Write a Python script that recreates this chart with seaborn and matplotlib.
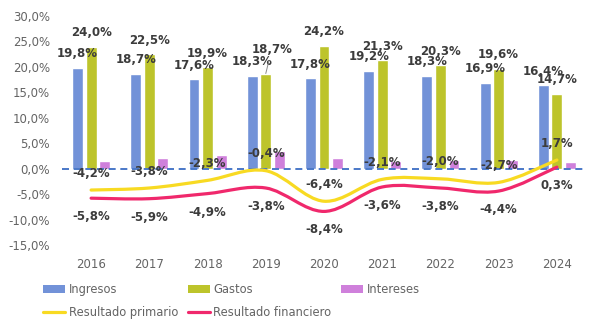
import numpy as np
import pandas as pd
import matplotlib
matplotlib.use("Agg")
import matplotlib.pyplot as plt
from matplotlib.path import Path
from matplotlib.patches import PathPatch, Patch
from matplotlib.lines import Line2D
import seaborn as sns

# Datos (% del PIB)
years = ["2016", "2017", "2018", "2019", "2020", "2021", "2022", "2023", "2024"]
ingresos = [19.8, 18.7, 17.6, 18.3, 17.8, 19.2, 18.3, 16.9, 16.4]
gastos = [24.0, 22.5, 19.9, 18.7, 24.2, 21.3, 20.3, 19.6, 14.7]
intereses = [1.6, 2.1, 2.6, 3.4, 2.0, 1.5, 1.8, 1.7, 1.4]
primario = [-4.2, -3.8, -2.3, -0.4, -6.4, -2.1, -2.0, -2.7, 1.7]
financiero = [-5.8, -5.9, -4.9, -3.8, -8.4, -3.6, -3.8, -4.4, 0.3]
ytick_values = [-15, -10, -5, 0, 5, 10, 15, 20, 25, 30]

C_ING = "#7292D8"
C_GAS = "#BDC42B"
C_INT = "#CF80DB"
C_PRI = "#F8DA22"
C_FIN = "#F0286C"
C_ZERO = "#4A78C8"
C_LABEL = "#3C3C3C"
C_TICK = "#646464"

sns.set_theme(style="white")
plt.rcParams["font.family"] = ["DejaVu Sans"]


def pct(v):
    return f"{v:.1f}".replace(".", ",") + "%"


def smooth_path(xs, ys):
    """Catmull-Rom style cubic Bezier path through the points."""
    pts = np.column_stack([xs, ys]).astype(float)
    n = len(pts)
    verts = [pts[0]]
    codes = [Path.MOVETO]
    for i in range(n - 1):
        p0 = pts[max(i - 1, 0)]
        p1 = pts[i]
        p2 = pts[i + 1]
        p3 = pts[min(i + 2, n - 1)]
        verts += [p1 + (p2 - p0) / 6.0, p2 - (p3 - p1) / 6.0, p2]
        codes += [Path.CURVE4] * 3
    return Path(verts, codes)


fig = plt.figure(figsize=(6.02, 3.34), dpi=100)
ax = fig.add_axes([62 / 602, 1 - 245 / 334, 524 / 602, (245 - 16) / 334])

series = ["Ingresos", "Gastos", "Intereses"]
df = pd.DataFrame({
    "Año": years * 3,
    "Valor": ingresos + gastos + intereses,
    "Serie": [s for s in series for _ in years],
})
sns.barplot(data=df, x="Año", y="Valor", hue="Serie", hue_order=series,
            palette=[C_ING, C_GAS, C_INT], saturation=1, width=0.7, gap=0.2,
            legend=False, ax=ax, zorder=2)

ax.set_xlim(-0.5, len(years) - 0.5)
ax.set_ylim(-15, 30)
ax.set_yticks(ytick_values)
ax.set_yticklabels([pct(v) for v in ytick_values])
ax.set_xlabel("")
ax.set_ylabel("")
for sp in ax.spines.values():
    sp.set_visible(False)
ax.tick_params(axis="both", length=0, labelsize=8.5, labelcolor=C_TICK)
ax.tick_params(axis="y", pad=8.5)
ax.tick_params(axis="x", pad=9)
ax.grid(False)

ax.axhline(0, color=C_ZERO, lw=1.4, ls=(0, (3.6, 2.4)), zorder=3)

# Etiquetas de las barras de ingresos y gastos
px = 72 / 100.0  # points per pixel
for k, (cont, vals) in enumerate(zip(ax.containers[:2], [ingresos, gastos])):
    for i, (bar, v) in enumerate(zip(cont, vals)):
        xc = bar.get_x() + bar.get_width() / 2
        top = bar.get_height()
        if k == 1 and years[i] == "2019":
            ax.annotate(pct(v), xy=(xc, top), xytext=(6 * px, 21 * px),
                        textcoords="offset points", ha="center", va="baseline",
                        fontsize=8.5, fontweight="bold", color=C_LABEL, zorder=6,
                        arrowprops=dict(arrowstyle="-", color="#8a8a8a", lw=0.7,
                                        shrinkA=2, shrinkB=9))
        else:
            ax.annotate(pct(v), xy=(xc, top), xytext=(0, 10.5 * px),
                        textcoords="offset points", ha="center", va="baseline",
                        fontsize=8.5, fontweight="bold", color=C_LABEL, zorder=6)

# Líneas suavizadas de resultados
xs = np.arange(len(years))
ax.add_patch(PathPatch(smooth_path(xs, primario), fill=False, edgecolor=C_PRI,
                       lw=2.3, capstyle="round", zorder=4))
ax.add_patch(PathPatch(smooth_path(xs, financiero), fill=False, edgecolor=C_FIN,
                       lw=2.3, capstyle="round", zorder=4))

for x, v in zip(xs, primario):
    ax.annotate(pct(v), xy=(x, v), xytext=(0, 17 * px), textcoords="offset points",
                ha="center", va="center", fontsize=8.5, fontweight="bold",
                color=C_LABEL, zorder=6)
for x, v in zip(xs, financiero):
    ax.annotate(pct(v), xy=(x, v), xytext=(0, -18.5 * px), textcoords="offset points",
                ha="center", va="center", fontsize=8.5, fontweight="bold",
                color=C_LABEL, zorder=6)

# Leyenda en dos filas
h_ing = Patch(facecolor=C_ING, edgecolor="none")
h_gas = Patch(facecolor=C_GAS, edgecolor="none")
h_int = Patch(facecolor=C_INT, edgecolor="none")
h_pri = Line2D([], [], color=C_PRI, lw=2.3)
h_fin = Line2D([], [], color=C_FIN, lw=2.3)
handles = [h_ing, h_pri, h_gas, h_fin, h_int]
labels = ["Ingresos", "Resultado primario", "Gastos", "Resultado financiero", "Intereses"]
fig.legend(handles, labels, ncol=3, loc="upper left",
           bbox_to_anchor=(43 / 602, 1 - 283 / 334), frameon=False,
           borderpad=0, borderaxespad=0, handlelength=1.95, handleheight=0.6,
           handletextpad=0.3, columnspacing=0.8, labelspacing=0.85,
           fontsize=8.3, labelcolor=C_TICK)

fig.savefig("out.png", dpi=100)
